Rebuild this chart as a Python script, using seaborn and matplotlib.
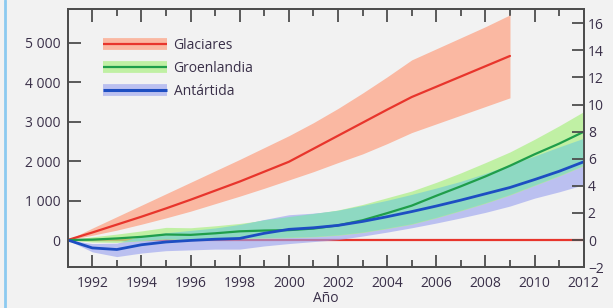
import matplotlib
matplotlib.use("Agg")
import matplotlib.pyplot as plt
import numpy as np
import pandas as pd
import seaborn as sns
from matplotlib.lines import Line2D
from matplotlib.legend_handler import HandlerTuple
from matplotlib.ticker import FuncFormatter, MultipleLocator, FixedLocator

# ---------------- data (Gt, cumulative) ----------------
years_glaciers = list(range(1991, 2010))
glaciers = [0, 190, 390, 590, 800, 1020, 1250, 1480, 1730, 1980,
            2310, 2640, 2970, 3300, 3620, 3880, 4140, 4400, 4660]
glaciers_low = [0, 120, 250, 400, 560, 730, 920, 1110, 1310, 1520,
                1730, 1960, 2180, 2440, 2720, 2940, 3160, 3380, 3600]
glaciers_high = [0, 300, 590, 880, 1170, 1460, 1750, 2040, 2340, 2640,
                 2970, 3330, 3720, 4130, 4560, 4840, 5120, 5400, 5700]

years_ice = list(range(1991, 2013))
greenland = [0, 10, 40, 80, 140, 130, 170, 220, 240, 250, 290, 370,
             500, 680, 870, 1120, 1360, 1610, 1880, 2170, 2440, 2740]
greenland_low = [0, -50, -60, -20, 20, 0, 20, 40, 50, 60, 80, 120,
                 190, 290, 400, 560, 740, 930, 1140, 1380, 1620, 1880]
greenland_high = [0, 80, 150, 230, 320, 310, 360, 420, 500, 580, 660, 760,
                  900, 1070, 1240, 1460, 1700, 1960, 2230, 2550, 2890, 3250]
antarctica = [0, -200, -240, -120, -50, -10, 20, 40, 170, 270, 310, 370,
              470, 590, 720, 860, 1010, 1170, 1330, 1530, 1740, 1980]
antarctica_low = [0, -300, -420, -330, -270, -250, -230, -230, -150, -90, -40, 10,
                  100, 200, 310, 430, 560, 700, 860, 1060, 1220, 1400]
antarctica_high = [0, -90, -80, 80, 170, 230, 290, 380, 520, 640, 680, 740,
                   860, 990, 1140, 1300, 1470, 1670, 1890, 2110, 2340, 2560]

series_names = ["Glaciares", "Groenlandia", "Antártida"]
left_ticks = [0, 1000, 2000, 3000, 4000, 5000]
right_ticks = [-2, 0, 2, 4, 6, 8, 10, 12, 14, 16]
xlabel = "Año"

# ---------------- styling ----------------
bg = "#f2f2f2"
line_cols = {"Glaciares": "#e8352c", "Groenlandia": "#1f9e4a", "Antártida": "#1d4ec2"}
band_cols = {"Glaciares": ("#fab8a2", 1.0), "Groenlandia": ("#b0f08a", 0.75),
             "Antártida": ("#9aa2f0", 0.62)}
overlap_col = ("#8ad8c6", 0.9)
text_col = "#3a3049"
spine_col = "#4d4d4d"
GT_PER_MM = 343.0

sns.set_theme(style="ticks")
plt.rcParams["font.family"] = ["Open Sans", "DejaVu Sans"]

fig = plt.figure(figsize=(6.13, 3.08), dpi=100, facecolor=bg)
ax = fig.add_axes([0.1104, 0.1321, 0.8418, 0.8377])
ax.set_facecolor(bg)

# zero reference line (under bands)
ax.axhline(0, color=line_cols["Glaciares"], lw=1.6, zorder=1)

# uncertainty bands
ax.fill_between(years_glaciers, glaciers_low, glaciers_high,
                color=band_cols["Glaciares"][0], alpha=band_cols["Glaciares"][1],
                lw=0, zorder=2)
ax.fill_between(years_ice, antarctica_low, antarctica_high,
                color=band_cols["Antártida"][0], alpha=band_cols["Antártida"][1],
                lw=0, zorder=2)
ax.fill_between(years_ice, greenland_low, greenland_high,
                color=band_cols["Groenlandia"][0], alpha=band_cols["Groenlandia"][1],
                lw=0, zorder=2)
# overlap of Greenland and Antarctica bands
ov_low = np.maximum(greenland_low, antarctica_low)
ov_high = np.minimum(greenland_high, antarctica_high)
ax.fill_between(years_ice, ov_low, ov_high, where=ov_high >= ov_low,
                interpolate=True, color=overlap_col[0], alpha=overlap_col[1],
                lw=0, zorder=3)

df = pd.concat([
    pd.DataFrame({"Año": years_glaciers, "v": glaciers, "Serie": "Glaciares"}),
    pd.DataFrame({"Año": years_ice, "v": greenland, "Serie": "Groenlandia"}),
    pd.DataFrame({"Año": years_ice, "v": antarctica, "Serie": "Antártida"}),
])
sns.lineplot(data=df, x="Año", y="v", hue="Serie", palette=line_cols,
             hue_order=series_names, size="Serie",
             sizes={"Glaciares": 1.6, "Groenlandia": 1.6, "Antártida": 2.0},
             legend=False, ax=ax, zorder=4)

ymin, ymax = -691, 5841
ax.set_xlim(1991, 2012)
ax.set_ylim(ymin, ymax)

ax.xaxis.set_major_locator(MultipleLocator(2))
ax.xaxis.set_minor_locator(MultipleLocator(1))
ax.yaxis.set_major_locator(FixedLocator(left_ticks))
ax.yaxis.set_major_formatter(FuncFormatter(lambda v, p: f"{int(v):,}".replace(",", " ")))

ax.tick_params(axis="x", which="major", direction="in", length=9, width=1.3,
               color=spine_col, top=True, bottom=True, labelsize=10,
               labelcolor=text_col, pad=6)
ax.tick_params(axis="x", which="minor", direction="in", length=5, width=1.3,
               color=spine_col, top=True, bottom=True)
ax.tick_params(axis="y", which="major", direction="in", length=9, width=1.3,
               color=spine_col, left=True, right=False, labelsize=10,
               labelcolor=text_col, pad=5)
ax.set_xlabel(xlabel, fontsize=10, color=text_col, labelpad=0.5)
ax.set_ylabel("")

ax2 = ax.twinx()
ax2.set_ylim(ymin / GT_PER_MM, ymax / GT_PER_MM)
ax2.yaxis.set_major_locator(FixedLocator(right_ticks))
ax2.tick_params(axis="y", which="major", direction="in", length=9, width=1.3,
                color=spine_col, right=True, labelsize=10, labelcolor=text_col, pad=3)
ax2.set_ylabel("")

for a in (ax, ax2):
    for s in a.spines.values():
        s.set_visible(True)
        s.set_color(spine_col)
        s.set_linewidth(1.3)

# legend
handles = []
for n in series_names:
    c, al = band_cols[n]
    band = Line2D([], [], color=c, alpha=al, lw=8.5, solid_capstyle="butt")
    ln = Line2D([], [], color=line_cols[n], lw=2.2 if n == "Antártida" else 1.6,
                solid_capstyle="butt")
    handles.append((band, ln))
leg = ax.legend(handles, series_names, handler_map={tuple: HandlerTuple(ndivide=1)},
                loc="upper left", bbox_to_anchor=(0.068, 0.888), frameon=False,
                fontsize=10, handlelength=4.6, handletextpad=0.5,
                labelspacing=0.58, borderpad=0, borderaxespad=0)
for t in leg.get_texts():
    t.set_color(text_col)

# light blue page edge line at left
fig.add_artist(Line2D([0.0085, 0.0085], [0, 1], transform=fig.transFigure,
                      color="#8ccaf0", lw=2))

fig.savefig("out.png", dpi=100, facecolor=bg)
